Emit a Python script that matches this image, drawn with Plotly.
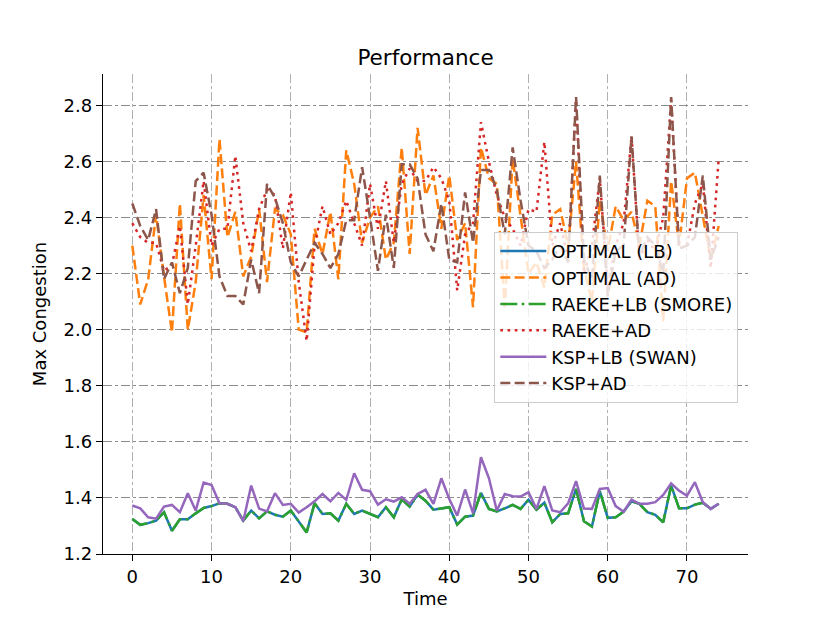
import plotly.graph_objects as go

# time steps
time = list(range(75))

# series
optimal_lb = [1.325, 1.304, 1.310, 1.319, 1.349, 1.283, 1.324, 1.324, 1.345, 1.364,
              1.371, 1.381, 1.379, 1.367, 1.319, 1.355, 1.327, 1.352, 1.340, 1.333,
              1.355, 1.317, 1.277, 1.381, 1.343, 1.345, 1.319, 1.379, 1.343, 1.355,
              1.343, 1.331, 1.367, 1.331, 1.395, 1.369, 1.412, 1.390, 1.358, 1.362,
              1.367, 1.305, 1.333, 1.337, 1.418, 1.361, 1.352, 1.363, 1.375, 1.361,
              1.394, 1.358, 1.383, 1.313, 1.343, 1.345, 1.432, 1.317, 1.298, 1.424,
              1.329, 1.331, 1.351, 1.388, 1.379, 1.349, 1.340, 1.313, 1.444, 1.363,
              1.363, 1.376, 1.383, 1.361, 1.379]

optimal_ad = [2.30, 2.09, 2.18, 2.41, 2.19, 1.99, 2.45, 2.00, 2.17, 2.48,
              2.18, 2.68, 2.33, 2.42, 2.19, 2.26, 2.43, 2.17, 2.43, 2.41,
              2.34, 2.00, 1.99, 2.36, 2.27, 2.42, 2.18, 2.64, 2.52, 2.31,
              2.40, 2.44, 2.25, 2.31, 2.65, 2.27, 2.72, 2.48, 2.55, 2.36,
              2.55, 2.32, 2.38, 2.08, 2.65, 2.54, 2.52, 2.08, 2.61, 2.41,
              2.20, 2.24, 2.15, 2.41, 2.43, 2.30, 2.60, 2.22, 2.10, 2.46,
              2.28, 2.44, 2.39, 2.42, 2.30, 2.46, 2.44, 2.03, 2.53, 2.30,
              2.54, 2.56, 2.40, 2.25, 2.37]

raeke_lb = [1.325, 1.304, 1.310, 1.319, 1.349, 1.283, 1.324, 1.324, 1.345, 1.364,
            1.371, 1.381, 1.379, 1.367, 1.319, 1.355, 1.327, 1.352, 1.340, 1.333,
            1.355, 1.317, 1.277, 1.381, 1.343, 1.345, 1.319, 1.379, 1.343, 1.355,
            1.343, 1.331, 1.367, 1.331, 1.395, 1.369, 1.412, 1.390, 1.358, 1.362,
            1.367, 1.305, 1.333, 1.337, 1.418, 1.361, 1.352, 1.363, 1.375, 1.361,
            1.394, 1.358, 1.383, 1.313, 1.343, 1.345, 1.432, 1.317, 1.298, 1.424,
            1.329, 1.331, 1.351, 1.388, 1.379, 1.349, 1.340, 1.313, 1.444, 1.363,
            1.363, 1.376, 1.383, 1.361, 1.379]

raeke_ad = [2.38, 2.33, 2.31, 2.31, 2.21, 2.23, 2.37, 2.09, 2.30, 2.53,
            2.30, 2.36, 2.36, 2.62, 2.38, 2.28, 2.43, 2.50, 2.48, 2.29,
            2.49, 2.17, 1.96, 2.30, 2.44, 2.34, 2.38, 2.46, 2.38, 2.30,
            2.52, 2.36, 2.53, 2.31, 2.52, 2.575, 2.53, 2.53, 2.58, 2.54,
            2.46, 2.14, 2.34, 2.38, 2.74, 2.60, 2.48, 2.40, 2.36, 2.30,
            2.43, 2.42, 2.67, 2.30, 2.38, 2.25, 2.82, 2.20, 2.30, 2.54,
            2.15, 2.30, 2.38, 2.69, 2.25, 2.32, 2.28, 2.40, 2.82, 2.29,
            2.30, 2.45, 2.52, 2.22, 2.61]

ksp_lb = [1.373, 1.363, 1.331, 1.326, 1.369, 1.375, 1.349, 1.417, 1.355, 1.455,
          1.446, 1.381, 1.379, 1.367, 1.317, 1.444, 1.362, 1.352, 1.417, 1.375,
          1.379, 1.348, 1.367, 1.388, 1.414, 1.388, 1.418, 1.393, 1.488, 1.429,
          1.424, 1.376, 1.395, 1.387, 1.402, 1.379, 1.414, 1.429, 1.379, 1.470,
          1.396, 1.337, 1.430, 1.345, 1.545, 1.471, 1.355, 1.414, 1.406, 1.405,
          1.420, 1.361, 1.442, 1.355, 1.349, 1.381, 1.460, 1.362, 1.361, 1.432,
          1.435, 1.371, 1.351, 1.394, 1.379, 1.379, 1.385, 1.411, 1.452, 1.426,
          1.408, 1.456, 1.385, 1.361, 1.379]

ksp_ad = [2.45, 2.37, 2.32, 2.43, 2.18, 2.24, 2.13, 2.22, 2.53, 2.56,
          2.41, 2.19, 2.12, 2.12, 2.09, 2.25, 2.13, 2.52, 2.47, 2.38,
          2.24, 2.19, 2.25, 2.31, 2.27, 2.22, 2.27, 2.39, 2.39, 2.58,
          2.40, 2.21, 2.41, 2.22, 2.59, 2.59, 2.54, 2.34, 2.28, 2.45,
          2.25, 2.24, 2.49, 2.31, 2.57, 2.57, 2.50, 2.34, 2.65, 2.46,
          2.30, 2.28, 2.22, 2.25, 2.30, 2.24, 2.83, 2.25, 2.18, 2.55,
          2.12, 2.28, 2.30, 2.69, 2.26, 2.33, 2.30, 2.20, 2.83, 2.29,
          2.30, 2.33, 2.55, 2.25, 2.33]

x_ticks = [0, 10, 20, 30, 40, 50, 60, 70]
y_ticks = [1.2, 1.4, 1.6, 1.8, 2.0, 2.2, 2.4, 2.6, 2.8]

series = [
    ("OPTIMAL (LB)", optimal_lb, "#1f77b4", "solid"),
    ("OPTIMAL (AD)", optimal_ad, "#ff7f0e", "10px,4.3px"),
    ("RAEKE+LB (SMORE)", raeke_lb, "#2ca02c", "17px,4.3px,2.7px,4.3px"),
    ("RAEKE+AD", raeke_ad, "#d62728", "2.7px,4.5px"),
    ("KSP+LB (SWAN)", ksp_lb, "#9467bd", "solid"),
    ("KSP+AD", ksp_ad, "#8c564b", "10px,4.3px"),
]

fig = go.Figure()
for name, vals, color, dash in series:
    fig.add_trace(go.Scatter(x=time, y=vals, mode="lines", name=name,
                             line=dict(color=color, width=2.5, dash=dash)))

# page has an 8px body margin, so the figure is drawn 8px smaller
font = "DejaVu Sans, Verdana, sans-serif"
fig.update_layout(
    width=822, height=615,
    margin=dict(l=95, r=82, t=66, b=69),
    paper_bgcolor="white", plot_bgcolor="white",
    font=dict(family=font, size=18, color="black"),
    title=dict(text="Performance", x=0.5, xref="paper", y=1 - 49 / 615,
               yref="container", xanchor="center", yanchor="middle",
               font=dict(size=21.5)),
    legend=dict(x=0.985, y=0.671, xanchor="right", yanchor="top",
                bgcolor="rgba(255,255,255,0.8)", bordercolor="#cccccc",
                borderwidth=1, font=dict(size=18), tracegroupgap=0,
                itemwidth=46),
    showlegend=True,
)
fig.update_xaxes(
    range=[-3.7, 77.7], tickvals=x_ticks, ticks="outside", ticklen=6,
    tickwidth=1.3, tickcolor="black", tickfont=dict(size=18),
    showline=True, linecolor="black",
    linewidth=1.3, showgrid=True, gridcolor="#b0b0b0", griddash="dashdot",
    gridwidth=1, zeroline=False,
    title=dict(text="Time", standoff=6, font=dict(size=18)),
)
fig.update_yaxes(
    range=[1.2, 2.912], tickvals=y_ticks, tickformat=".1f", ticks="outside",
    ticklen=6, tickwidth=1.3, tickcolor="black", tickfont=dict(size=18),
    showline=True,
    linecolor="black", linewidth=1.3, showgrid=True, gridcolor="#8c8c8c",
    griddash="dashdot", gridwidth=1, zeroline=False,
    title=dict(text="Max Congestion", standoff=12, font=dict(size=18)),
)

fig.write_html("out.html")
